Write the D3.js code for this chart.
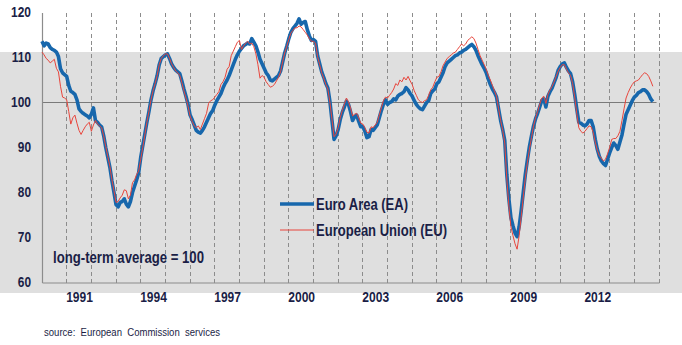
<!DOCTYPE html>
<html>
<head>
<meta charset="utf-8">
<script src="https://cdn.jsdelivr.net/npm/d3@7"></script>
<style>
  body { margin: 0; background: #ffffff; }
  svg { display: block; }
  text { font-family: "Liberation Sans", Arial, sans-serif; fill: #1a1e46; }
</style>
</head>
<body>
<svg id="chart" width="682" height="345"></svg>
<script>
// Economic sentiment indicator, monthly, from January 1990
const startYear = 1990;

const euroArea = [
  113.6,112.6,113.2,113.0,112.2,111.8,111.6,111.2,110.2,107.5,106.6,106.2,
  105.8,103.8,102.5,102.2,101.8,100.6,98.6,98.0,97.6,97.3,97.0,96.6,
  97.4,98.8,96.0,95.6,95.0,94.6,92.6,90.0,87.8,85.6,82.6,80.0,
  77.3,76.8,77.8,78.0,78.6,77.4,76.8,78.0,80.0,81.4,82.8,84.4,
  87.8,90.4,93.0,95.6,98.0,100.6,102.6,104.2,106.0,108.4,109.8,110.2,
  110.6,110.8,109.8,108.6,107.8,107.2,106.8,106.4,104.8,103.0,101.4,99.6,
  97.2,96.2,95.0,93.8,93.4,93.2,93.8,94.6,95.6,96.6,97.6,98.2,
  99.4,100.4,101.2,102.0,103.2,104.2,105.0,106.0,107.2,108.4,109.6,110.6,
  111.4,112.0,112.6,112.9,113.2,113.0,114.2,113.4,112.6,111.2,109.6,108.6,
  107.6,106.6,106.0,105.0,104.8,105.2,105.6,106.0,107.0,109.0,111.0,112.5,
  114.2,115.6,116.4,117.0,117.6,118.6,117.4,117.8,118.0,116.2,114.8,113.8,
  114.0,113.6,110.4,108.6,106.8,105.6,104.2,103.2,100.2,96.0,91.8,92.6,
  94.0,96.2,97.8,99.0,100.3,99.6,98.0,96.0,96.8,97.2,95.8,94.6,
  94.6,93.6,92.2,92.4,94.0,93.8,94.4,95.0,96.6,98.2,99.6,100.6,
  99.6,100.0,100.2,100.8,100.6,101.4,101.8,102.0,102.4,103.3,102.8,102.0,
  101.4,100.4,99.6,99.0,98.6,98.4,99.2,100.0,100.4,102.0,102.6,103.0,
  104.2,104.6,105.6,106.6,108.0,108.8,109.2,109.6,110.0,110.4,110.6,111.0,
  111.2,111.6,111.8,112.2,112.6,112.9,112.4,111.6,110.4,109.4,108.4,107.6,
  106.6,105.2,104.0,103.0,102.2,101.2,98.6,96.0,94.0,91.6,84.0,78.6,
  74.4,72.6,71.0,70.2,72.4,76.0,80.0,84.0,87.2,90.2,92.6,94.8,
  96.4,97.6,99.0,100.4,100.8,99.0,101.4,102.4,103.2,104.4,105.6,107.2,
  108.0,108.6,108.8,107.8,107.0,106.4,104.6,101.8,98.6,95.6,95.4,95.0,
  94.8,95.2,96.0,96.0,94.6,91.8,89.6,88.0,87.0,86.4,86.0,87.4,
  88.8,90.0,91.0,90.4,89.6,91.2,92.8,95.2,97.4,98.4,99.4,100.4,
  101.2,101.6,102.2,102.4,102.8,102.8,102.4,101.8,100.8,100.2
];

const europeanUnion = [
  111.2,110.6,109.8,109.4,108.8,109.2,109.6,107.6,106.8,103.6,101.2,101.0,
  100.6,98.0,95.2,96.6,97.2,95.4,93.8,92.9,93.8,94.6,95.2,95.6,
  93.6,95.0,96.0,95.2,94.8,94.4,92.6,90.2,88.0,85.8,82.8,80.4,
  77.8,78.0,78.8,79.4,80.6,80.4,78.6,79.4,82.2,82.8,84.0,84.8,
  87.4,90.0,92.8,95.6,98.0,100.6,102.6,104.2,106.0,108.4,109.8,110.4,
  110.8,110.8,109.8,108.6,107.8,107.0,106.6,106.0,104.4,102.6,101.0,99.2,
  97.0,95.8,94.8,94.4,94.8,94.0,95.2,96.4,97.6,99.8,100.4,100.6,
  101.2,101.8,102.4,104.0,104.6,105.6,107.4,108.0,110.4,111.4,112.4,113.4,
  113.8,111.8,112.6,113.2,113.6,113.0,113.2,112.4,110.8,108.4,105.4,106.0,
  105.6,104.6,104.0,103.4,103.6,104.0,104.8,105.6,106.8,109.0,111.0,112.5,
  114.0,115.4,116.0,116.6,116.6,117.0,116.8,116.2,115.6,115.0,114.2,113.6,
  113.6,113.2,110.2,108.4,106.6,105.4,104.0,103.0,100.0,96.2,92.4,93.0,
  94.4,96.6,98.2,99.6,101.0,100.2,98.8,97.0,97.4,97.6,96.6,95.4,
  95.2,94.4,93.4,93.2,94.6,94.4,95.0,95.6,97.2,98.8,100.4,101.2,
  101.0,101.6,102.2,103.0,104.2,103.8,105.0,104.6,105.6,105.0,105.8,104.8,
  104.0,102.6,101.6,100.6,100.2,100.0,100.4,100.6,101.6,102.8,103.4,104.6,
  105.6,105.8,106.8,108.2,109.0,109.8,110.2,110.6,111.0,111.2,111.8,112.4,
  113.0,112.6,113.0,113.8,114.2,114.6,114.2,113.2,111.8,110.4,109.4,108.4,
  107.4,106.0,105.0,103.8,102.6,101.4,98.6,96.0,93.8,91.0,83.0,77.0,
  72.4,70.4,68.6,67.4,70.4,74.6,79.0,83.2,86.6,89.6,92.2,94.8,
  96.6,98.0,99.6,101.0,101.4,99.8,101.8,102.8,103.6,104.6,105.8,107.0,
  107.8,108.4,108.4,107.4,106.6,106.0,104.2,101.2,97.6,94.4,93.6,93.2,
  93.6,94.2,94.8,94.6,93.4,91.2,89.4,88.2,87.6,87.0,87.4,88.6,
  90.0,91.8,92.0,92.0,92.6,93.6,96.0,98.6,101.0,102.2,103.2,104.0,
  104.6,104.8,105.0,105.6,106.2,106.6,106.4,105.8,104.8,103.6
];

const yTicks = [60, 70, 80, 90, 100, 110, 120];
const yearLabels = [1991, 1994, 1997, 2000, 2003, 2006, 2009, 2012];
const gridYears = d3.range(1991, 2016);
const seriesNames = ["Euro Area (EA)", "European Union (EU)"];
const averageLevel = 100;
const noteText = "long-term average = 100";
const sourceText = "source:  European  Commission  services";

const svg = d3.select("#chart");

const x = d3.scaleLinear().domain([1990, 2015]).range([42, 659]);
const y = d3.scaleLinear().domain([60, 120]).range([282.5, 12.5]);

// squeeze a text run horizontally to mimic a condensed face
function condense(sel, factor) {
  sel.each(function () {
    const w = this.getComputedTextLength();
    d3.select(this)
      .attr("textLength", (w * factor).toFixed(1))
      .attr("lengthAdjust", "spacingAndGlyphs");
  });
}

// grey panel behind the lower part of the plot
svg.append("rect")
  .attr("x", 0).attr("y", 52).attr("width", 682).attr("height", 241)
  .attr("fill", "#dfdfdf");

// dashed yearly gridlines
svg.append("g").selectAll("line").data(gridYears).join("line")
  .attr("x1", d => x(d)).attr("x2", d => x(d))
  .attr("y1", y(120)).attr("y2", y(60))
  .attr("stroke", "#8c8c8c").attr("stroke-width", 1)
  .attr("stroke-dasharray", "4,3")
  .attr("shape-rendering", "crispEdges");

// long-term average reference line
svg.append("line")
  .attr("x1", x(1990)).attr("x2", x(2014.9))
  .attr("y1", y(averageLevel)).attr("y2", y(averageLevel))
  .attr("stroke", "#7a7a7a").attr("stroke-width", 1.2);

// y axis
const yAxis = svg.append("g")
  .attr("transform", `translate(${x(1990)},0)`)
  .call(d3.axisLeft(y).tickValues(yTicks).tickSize(0).tickPadding(11));
yAxis.select(".domain").attr("stroke", "#8c8c8c").attr("stroke-width", 1.2);
yAxis.selectAll("text")
  .style("font-size", "14px").style("font-weight", "bold")
  .attr("fill", "#1a1e46")
  .call(condense, 0.85);

// x axis, labels centred on each year
const xAxis = svg.append("g")
  .attr("transform", `translate(0,${y(60)})`)
  .call(d3.axisBottom(x)
    .tickValues(yearLabels.map(v => v + 0.5))
    .tickFormat(v => String(Math.floor(v)))
    .tickSize(0).tickPadding(10));
xAxis.select(".domain").attr("stroke", "#8c8c8c").attr("stroke-width", 1.2);
xAxis.selectAll("text")
  .style("font-size", "14px").style("font-weight", "bold")
  .attr("fill", "#1a1e46")
  .call(condense, 0.86);

// series lines
const toPoints = arr => arr.map((v, i) => ({ t: startYear + i / 12, v }));
const line = d3.line().x(d => x(d.t)).y(d => y(d.v));

svg.append("path")
  .datum(toPoints(euroArea))
  .attr("d", line)
  .attr("fill", "none")
  .attr("stroke", "#1767ac")
  .attr("stroke-width", 3.6)
  .attr("stroke-linejoin", "round");

svg.append("path")
  .datum(toPoints(europeanUnion))
  .attr("d", line)
  .attr("fill", "none")
  .attr("stroke", "#e8453c")
  .attr("stroke-width", 1)
  .attr("stroke-linejoin", "round");

// legend
const legend = svg.append("g");
const legendRows = [
  { name: seriesNames[0], color: "#1767ac", width: 3.6, yPos: 204, textW: 92 },
  { name: seriesNames[1], color: "#e8453c", width: 1, yPos: 230, textW: 131 }
];
legendRows.forEach(r => {
  legend.append("line")
    .attr("x1", 280).attr("x2", 314)
    .attr("y1", r.yPos).attr("y2", r.yPos)
    .attr("stroke", r.color).attr("stroke-width", r.width);
  legend.append("text")
    .attr("x", 316).attr("y", r.yPos)
    .attr("dy", "0.36em")
    .attr("textLength", r.textW)
    .attr("lengthAdjust", "spacingAndGlyphs")
    .style("font-size", "16px").style("font-weight", "bold")
    .text(r.name);
});

// note and source
svg.append("text")
  .attr("x", 53).attr("y", 257).attr("dy", "0.36em")
  .attr("textLength", 151)
  .attr("lengthAdjust", "spacingAndGlyphs")
  .style("font-size", "16.5px").style("font-weight", "bold")
  .text(noteText);

svg.append("text")
  .attr("x", 44).attr("y", 332).attr("dy", "0.36em")
  .attr("textLength", 176)
  .attr("lengthAdjust", "spacingAndGlyphs")
  .style("font-size", "11px")
  .style("white-space", "pre")
  .text(sourceText);
</script>
</body>
</html>
